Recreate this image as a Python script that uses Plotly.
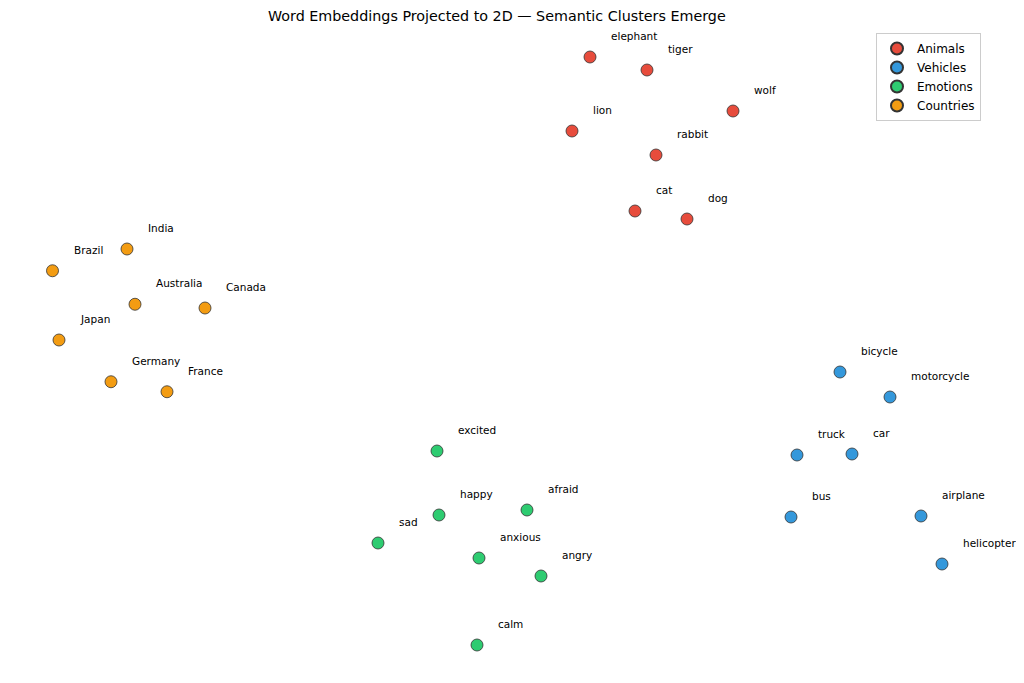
import plotly.graph_objects as go

animal_words = ["elephant", "tiger", "wolf", "lion", "rabbit", "cat", "dog"]
animal_x = [3.60, 5.88, 9.32, 2.88, 6.24, 5.40, 7.48]
animal_y = [11.72, 11.20, 9.56, 8.76, 7.80, 5.56, 5.24]

vehicle_words = ["bicycle", "motorcycle", "truck", "car", "bus", "airplane", "helicopter"]
vehicle_x = [13.60, 15.60, 11.88, 14.08, 11.64, 16.84, 17.68]
vehicle_y = [-0.88, -1.88, -4.20, -4.16, -6.68, -6.64, -8.56]

emotion_words = ["excited", "happy", "afraid", "sad", "anxious", "angry", "calm"]
emotion_x = [-2.52, -2.44, 1.08, -4.88, -0.84, 1.64, -0.92]
emotion_y = [-4.04, -6.60, -6.40, -7.72, -8.32, -9.04, -11.80]

country_words = ["India", "Brazil", "Australia", "Canada", "Japan", "Germany", "France"]
country_x = [-14.92, -17.90, -14.60, -11.80, -17.64, -15.56, -13.32]
country_y = [4.04, 3.17, 1.83, 1.68, 0.40, -1.27, -1.67]

groups = [
    ("Animals", animal_words, animal_x, animal_y, "#e74c3c"),
    ("Vehicles", vehicle_words, vehicle_x, vehicle_y, "#3498db"),
    ("Emotions", emotion_words, emotion_x, emotion_y, "#2ecc71"),
    ("Countries", country_words, country_x, country_y, "#f39c12"),
]

W, H = 1008, 667  # page body has an 8px margin

fig = go.Figure()
annotations = []
for name, words, xs, ys, color in groups:
    fig.add_trace(go.Scatter(
        x=xs, y=ys, mode="markers", name=name,
        marker=dict(size=12, color=color, line=dict(color="#333333", width=0.8)),
        hoverinfo="text", text=words,
    ))
    for w, xv, yv in zip(words, xs, ys):
        annotations.append(dict(
            x=xv, y=yv, text=w, showarrow=False,
            xanchor="left", yanchor="middle", xshift=19, yshift=21,
            font=dict(size=10.5, color="black", family="DejaVu Sans"),
        ))

annotations.append(dict(
    x=(497 - 8) / W, y=1 - (16 - 8) / H, xref="paper", yref="paper",
    text="Word Embeddings Projected to 2D \u2014 Semantic Clusters Emerge",
    showarrow=False, xanchor="center", yanchor="middle",
    font=dict(size=14.3, color="black", family="DejaVu Sans"),
))

fig.update_layout(
    width=W, height=H,
    margin=dict(l=0, r=0, t=0, b=0),
    plot_bgcolor="white", paper_bgcolor="white",
    font=dict(family="DejaVu Sans", color="black"),
    annotations=annotations,
    legend=dict(
        x=(981 - 8) / W, y=1 - (33 - 8) / H, xanchor="right", yanchor="top",
        bgcolor="white", bordercolor="#cccccc", borderwidth=1,
        font=dict(size=12), itemsizing="constant", tracegroupgap=0,
    ),
    xaxis=dict(range=[-19.68, 20.64], visible=False),
    yaxis=dict(range=[-13.0, 13.68], visible=False),
)

fig.write_html("out.html")
